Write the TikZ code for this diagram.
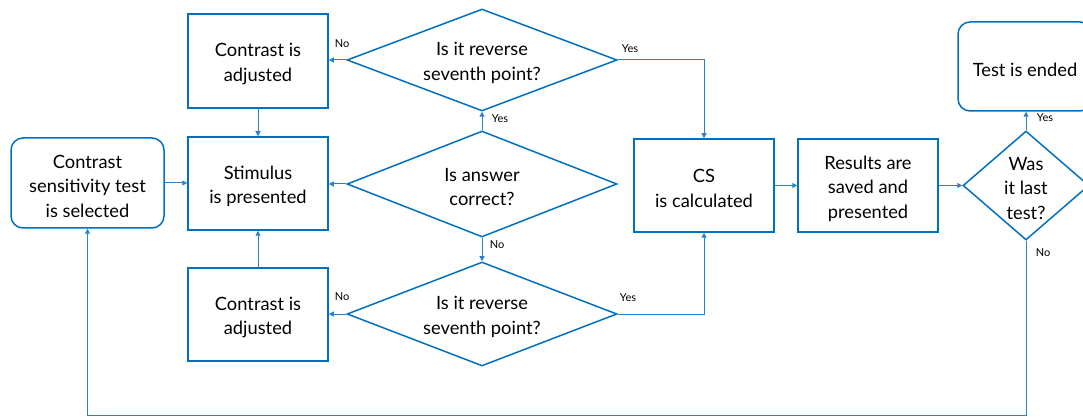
\documentclass[tikz,border=0pt]{standalone}
\usepackage{fontspec}
\setmainfont{Lato}
\usetikzlibrary{shapes.geometric,arrows.meta}
\definecolor{boxblue}{RGB}{0,112,192}
\definecolor{lineblue}{RGB}{40,130,205}
\newcommand{\mainfs}{\fontsize{18.3}{24.5}\selectfont}
\newcommand{\lblfs}{\fontsize{11}{13}\selectfont}
\begin{document}
\begin{tikzpicture}[x=1pt,y=-1pt,
  box/.style={draw=boxblue, line width=1.5pt, minimum width=140pt, minimum height=93pt, align=center, font=\mainfs, inner sep=0pt},
  rbox/.style={box, rounded corners=12pt},
  dec/.style={diamond, draw=boxblue, line width=1.5pt, inner sep=0pt},
  dtext/.style={align=center, font=\mainfs, inner sep=0pt, yshift=-3pt},
  conn/.style={draw=lineblue, line width=1pt, -{Triangle[length=5pt,width=5pt]}},
  lbl/.style={font=\lblfs, inner sep=0pt}]
\useasboundingbox (0,0) rectangle (1083,419);
% boxes
\node[rbox, minimum width=153pt, minimum height=90pt] (start) at (87.5,183) {};
\node[dtext] (startt) at (87.5,183) {Contrast\\sensitivity test\\is selected};
\node[box, minimum height=94pt] (adjT) at (258,61) {};
\node[dtext] (adjTt) at (258,61) {Contrast is\\adjusted};
\node[box] (stim) at (258,183.5) {};
\node[dtext] (stimt) at (258,183.5) {Stimulus\\is presented};
\node[box] (adjB) at (258,314.5) {};
\node[dtext] (adjBt) at (258,314.5) {Contrast is\\adjusted};
\node[box] (cs) at (704,185.5) {};
\node[dtext] (cst) at (704,185.5) {CS\\is calculated};
\node[box] (res) at (868,185.5) {};
\node[dtext] (rest) at (868,185.5) {Results are\\saved and\\presented};
\node[rbox, minimum width=134pt, minimum height=89pt] (end) at (1025,66.5) {};
\node[dtext] (endt) at (1025,66.5) {Test is ended};
% decisions
\node[dec, minimum width=270pt, minimum height=102pt] (revT) at (482,60) {};
\node[dtext] (revTt) at (482,60) {Is it reverse\\seventh point?};
\node[dec, minimum width=270pt, minimum height=106pt] (ans) at (482,184) {};
\node[dtext] (anst) at (482,184) {Is answer\\correct?};
\node[dec, minimum width=270pt, minimum height=104pt] (revB) at (482,314) {};
\node[dtext] (revBt) at (482,314) {Is it reverse\\seventh point?};
\node[dec, minimum width=126pt, minimum height=109pt] (last) at (1026,185.5) {};
\node[dtext] (lastt) at (1026,185.5) {Was\\it last\\test?};
% connectors
\coordinate (loop) at (0,415);
\draw[conn] (start.east) -- (start.east -| stim.west);
\draw[conn] (adjT) -- (stim);
\draw[conn] (adjB) -- (stim);
\draw[conn] (ans.west) -- (ans.west -| stim.east);
\draw[conn] (ans.north) -- (revT.south);
\draw[conn] (ans.south) -- (revB.north);
\draw[conn] (revT.west) -- (revT.west -| adjT.east);
\draw[conn] (revB.west) -- (revB.west -| adjB.east);
\draw[conn] (revT.east) -| (cs.north);
\draw[conn] (revB.east) -| (cs.south);
\draw[conn] (cs) -- (res);
\draw[conn] (res) -- (last);
\draw[conn] (last.north) -- (last.north |- end.south);
\draw[conn] (last.south) -- (last.south |- loop) -| (start.south);
% labels
\node[lbl] (l1) at (342,44) {No};
\node[lbl] (l2) at (630,49) {Yes};
\node[lbl] (l3) at (500,119) {Yes};
\node[lbl] (l4) at (497,245) {No};
\node[lbl] (l5) at (342,297) {No};
\node[lbl] (l6) at (628,298) {Yes};
\node[lbl] (l7) at (1045,118) {Yes};
\node[lbl] (l8) at (1043,253) {No};
\end{tikzpicture}
\end{document}
